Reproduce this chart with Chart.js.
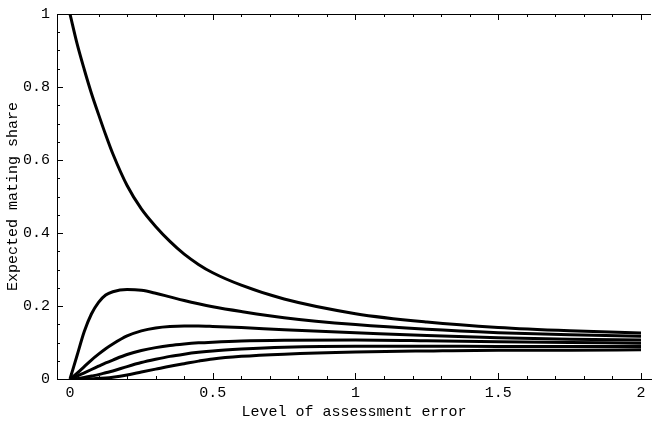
<!DOCTYPE html>
<html>
<head>
<meta charset="utf-8">
<script src="https://cdn.jsdelivr.net/npm/chart.js@4"></script>
<style>
  body { margin: 0; background: #fff; }
</style>
</head>
<body>
<canvas id="grafico" width="652" height="423"></canvas>
<script>
// Valores
const erro = [0, 0.025, 0.05, 0.075, 0.1, 0.125, 0.15, 0.2, 0.25, 0.3, 0.35, 0.4, 0.45, 0.5, 0.6, 0.75, 1, 1.25, 1.5, 1.75, 2];

const curva1 = [1, 0.918, 0.848, 0.783, 0.725, 0.669, 0.617, 0.53, 0.466, 0.418, 0.377, 0.342, 0.314, 0.291, 0.257, 0.219, 0.179, 0.156, 0.141, 0.132, 0.126];
const curva2 = [0, 0.065, 0.13, 0.178, 0.21, 0.23, 0.239, 0.245, 0.243, 0.235, 0.225, 0.215, 0.206, 0.198, 0.185, 0.168, 0.149, 0.136, 0.127, 0.121, 0.117];
const curva3 = [0, 0.016, 0.034, 0.052, 0.068, 0.083, 0.096, 0.118, 0.132, 0.14, 0.144, 0.145, 0.145, 0.144, 0.141, 0.135, 0.127, 0.119, 0.113, 0.109, 0.107];
const curva4 = [0, 0.008, 0.017, 0.026, 0.035, 0.044, 0.052, 0.067, 0.078, 0.086, 0.092, 0.096, 0.099, 0.101, 0.104, 0.106, 0.107, 0.105, 0.102, 0.1, 0.098];
const curva5 = [0, 0.001, 0.004, 0.008, 0.012, 0.017, 0.022, 0.034, 0.045, 0.054, 0.062, 0.068, 0.073, 0.077, 0.082, 0.087, 0.09, 0.09, 0.089, 0.089, 0.089];
const curva6 = [0, 0, 0.001, 0.001, 0.002, 0.003, 0.005, 0.011, 0.019, 0.027, 0.035, 0.042, 0.049, 0.055, 0.062, 0.068, 0.074, 0.077, 0.079, 0.079, 0.08];

const ticksX = [0, 0.5, 1, 1.5, 2];
const ticksY = [0, 0.2, 0.4, 0.6, 0.8, 1];

const fonte = { family: '"Liberation Mono", "DejaVu Sans Mono", monospace', size: 15 };

function serie(valores) {
    return {
        data: erro.map((x, i) => ({ x: x, y: valores[i] })),
        borderColor: '#000',
        borderWidth: 3,
        pointRadius: 0,
        cubicInterpolationMode: 'monotone',
        fill: false
    };
}

// "1" em vez de "1.0", como no original
const rotulo = v => String(+Number(v).toFixed(2));

// Marcas internas e linha de cima, no estilo do Mathematica
const moldura = {
    id: 'moldura',
    afterDraw(chart) {
        const ctx = chart.ctx;
        const a = chart.chartArea;
        const sx = chart.scales.x;
        const sy = chart.scales.y;
        ctx.save();
        ctx.strokeStyle = '#000';
        ctx.lineWidth = 1;
        ctx.beginPath();
        ctx.moveTo(a.left, a.top + 0.5);
        ctx.lineTo(a.right, a.top + 0.5);
        for (let k = 0; k <= 20; k++) {
            const px = Math.round(sx.getPixelForValue(k / 10)) + 0.5;
            const len = k % 5 === 0 ? 6 : 3;
            ctx.moveTo(px, a.bottom);
            ctx.lineTo(px, a.bottom - len);
            ctx.moveTo(px, a.top);
            ctx.lineTo(px, a.top + len);
        }
        for (let k = 0; k <= 20; k++) {
            const py = Math.round(sy.getPixelForValue(k / 20)) + 0.5;
            const len = k % 4 === 0 ? 6 : 3;
            ctx.moveTo(a.left, py);
            ctx.lineTo(a.left + len, py);
        }
        ctx.stroke();
        ctx.restore();
    }
};

new Chart(document.getElementById('grafico'), {
    type: 'scatter',
    data: {
        datasets: [curva1, curva2, curva3, curva4, curva5, curva6].map(serie)
    },
    options: {
        responsive: false,
        animation: false,
        showLine: true,
        layout: { padding: { top: 14, right: 1, left: 0, bottom: 0 } },
        plugins: {
            legend: { display: false },
            tooltip: { enabled: false }
        },
        scales: {
            x: {
                type: 'linear',
                min: -0.0455,
                max: 2.035,
                afterBuildTicks: s => { s.ticks = ticksX.map(v => ({ value: v })); },
                afterFit: s => { s.height = 44; s.paddingLeft = 0; s.paddingRight = 0; },
                grid: { display: false, drawTicks: false },
                border: { display: true, color: '#000', width: 1 },
                ticks: { color: '#000', font: fonte, padding: 5, maxRotation: 0, callback: rotulo },
                title: {
                    display: true,
                    text: 'Level of assessment error',
                    color: '#000',
                    font: fonte,
                    padding: { top: 0, bottom: 2 }
                }
            },
            y: {
                type: 'linear',
                min: 0,
                max: 1,
                afterBuildTicks: s => { s.ticks = ticksY.map(v => ({ value: v })); },
                afterFit: s => { s.width = 57; s.paddingTop = 0; s.paddingBottom = 0; },
                grid: { display: false, drawTicks: false },
                border: { display: true, color: '#000', width: 1 },
                ticks: { color: '#000', font: fonte, padding: 7, callback: rotulo },
                title: {
                    display: true,
                    text: 'Expected mating share',
                    color: '#000',
                    font: fonte,
                    padding: { top: 4, bottom: 0 }
                }
            }
        }
    },
    plugins: [moldura]
});
</script>
</body>
</html>
